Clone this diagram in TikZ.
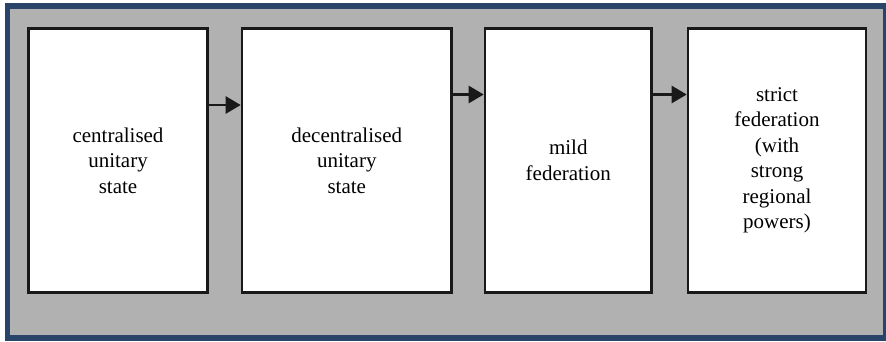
\documentclass[tikz,border=0pt]{standalone}
\usepackage{fontspec}
\setmainfont{LiberationSerif-Regular.ttf}[BoldFont=LiberationSerif-Bold.ttf]
\usetikzlibrary{arrows.meta}
\definecolor{framenavy}{HTML}{284469}
\definecolor{panelgray}{HTML}{B1B1B1}
\tikzset{
  stagebox/.style={draw=black!90, line width=2.6pt, fill=white, inner sep=2pt,
    align=center, font=\rmfamily\fontsize{21}{25.5}\selectfont,
    minimum height=264pt},
  flowarrow/.style={draw=black!90, line width=2.6pt,
    -{Triangle[length=15pt,width=17pt]}},
}
\begin{document}
\begin{tikzpicture}[x=1pt,y=-1pt]
  \useasboundingbox (0,0) rectangle (886,341);
  % outer frame and panel
  \fill[framenavy] (5,3) rectangle (886,341);
  \fill[panelgray] (10,9) rectangle (883,335);

  % stages
  \node[stagebox, minimum width=179pt]   (b1) at (118,160.5)    {centralised\\unitary\\state};
  \node[stagebox, minimum width=209.5pt] (b2) at (346.75,160.5) {decentralised\\unitary\\state};
  \node[stagebox, minimum width=166.5pt] (b3) at (568.25,160.5) {mild\\federation};
  \node[stagebox, minimum width=178pt]   (b4) at (777,160.5)    {strict\\federation\\(with\\strong\\regional\\powers)};

  % arrow heights
  \coordinate (h1) at (0,105);
  \coordinate (h2) at (0,94.5);

  \draw[flowarrow] (b1.east |- h1) -- (b2.west |- h1);
  \draw[flowarrow] (b2.east |- h2) -- (b3.west |- h2);
  \draw[flowarrow] (b3.east |- h2) -- (b4.west |- h2);
\end{tikzpicture}
\end{document}
